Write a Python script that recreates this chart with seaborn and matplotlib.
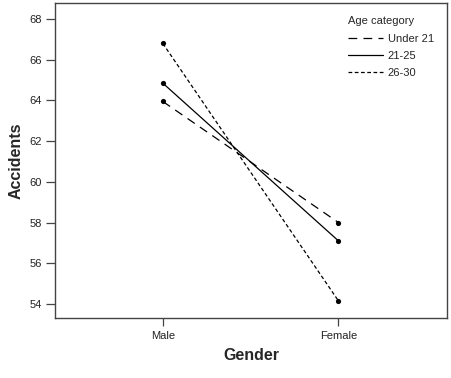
import matplotlib
matplotlib.use("Agg")
import matplotlib.pyplot as plt
import seaborn as sns
import pandas as pd

genders = ["Male", "Female"]
under21 = [63.95, 58.0]
age21_25 = [64.85, 57.1]
age26_30 = [66.8, 54.15]
age_labels = ["Under 21", "21-25", "26-30"]
yticks = [54, 56, 58, 60, 62, 64, 66, 68]

rows = []
for lab, vals in zip(age_labels, [under21, age21_25, age26_30]):
    for g, v in zip(genders, vals):
        rows.append({"Gender": g, "Accidents": v, "Age category": lab})
df = pd.DataFrame(rows)

sns.set_style("white")
plt.rcParams["font.family"] = ["Liberation Sans", "DejaVu Sans"]

fig = plt.figure(figsize=(4.52, 3.78), dpi=100)
ax = fig.add_axes([55/452, 1 - 318/378, 392/452, 315/378])

dashes = {"Under 21": (7, 5), "21-25": "", "26-30": (3, 2)}
sns.lineplot(data=df, x="Gender", y="Accidents", style="Age category",
             style_order=age_labels, dashes=dashes, color="black",
             linewidth=0.9, ax=ax, sort=False)
sns.scatterplot(data=df, x="Gender", y="Accidents", color="black", s=14,
                edgecolor="black", linewidth=0, legend=False, ax=ax, zorder=3)

ax.set_xlim(-0.614, 1.618)
ax.set_ylim(53.31, 68.79)
ax.set_yticks(yticks)
ax.set_yticklabels([str(t) for t in yticks])
ax.set_xticks([0, 1])
ax.set_xticklabels(genders)
ax.tick_params(axis="y", labelsize=8, length=6.5, width=0.9, color="#444444",
               labelcolor="#222222", direction="out", left=True, pad=3)
ax.tick_params(axis="x", labelsize=8, length=5.5, width=0.9, color="#444444",
               labelcolor="#222222", direction="out", bottom=True, pad=4)
for sp in ax.spines.values():
    sp.set_color("#444444")
    sp.set_linewidth(1.0)
ax.set_xlabel("Gender", fontsize=11.5, fontweight="bold", labelpad=5)
ax.set_ylabel("Accidents", fontsize=11.5, fontweight="bold", labelpad=4)

leg = ax.legend(title="Age category", loc="upper left", frameon=False,
                fontsize=8, title_fontsize=8, handlelength=3.2,
                bbox_to_anchor=(0.747, 0.96), borderpad=0, borderaxespad=0,
                labelspacing=0.62, handletextpad=0.4)
leg._legend_box.align = "left"
leg._legend_box.sep = 6

fig.savefig("out.png", dpi=100)
